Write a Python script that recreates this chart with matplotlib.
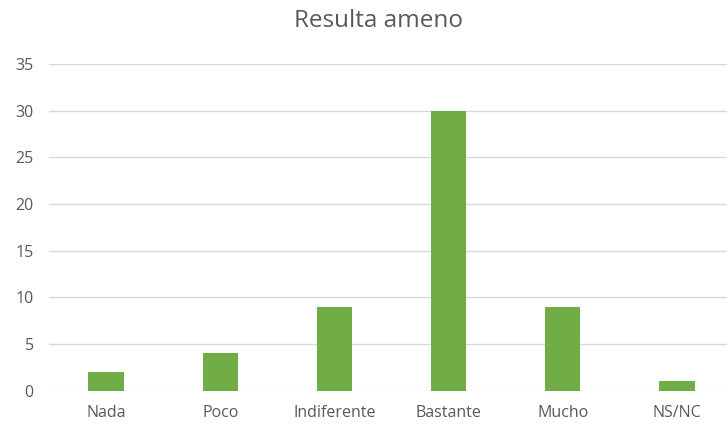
import matplotlib.pyplot as plt

categories = ['Nada', 'Poco', 'Indiferente', 'Bastante', 'Mucho', 'NS/NC']
values = [2, 4, 9, 30, 9, 1]
yticks = [0, 5, 10, 15, 20, 25, 30, 35]

plt.rcParams['font.family'] = ['Open Sans', 'DejaVu Sans']

fig = plt.figure(figsize=(7.27, 4.30), dpi=100)
ax = fig.add_axes([49/727, 1 - 390.7/430, 1 - 49/727, (390.7 - 64)/430])

x = list(range(len(categories)))
ax.bar(x, values, width=0.31, color='#70AD47', zorder=3)

ax.set_ylim(0, 35)
ax.set_xlim(-0.5, (727 - 106.5) / 114.1)
ax.set_yticks(yticks)
ax.set_xticks(x)
ax.set_xticklabels(categories)
ax.grid(axis='y', color='#D9D9D9', linewidth=1, zorder=0)
for s in ax.spines.values():
    s.set_visible(False)
ax.tick_params(length=0, colors='#595959', labelsize=11.5)
ax.tick_params(axis='y', pad=11)
ax.tick_params(axis='x', pad=10)

fig.text(378/727, 1 - 21/430, 'Resulta ameno', ha='center', va='center',
         fontsize=17.5, color='#595959')

fig.savefig('out.png', dpi=100)
